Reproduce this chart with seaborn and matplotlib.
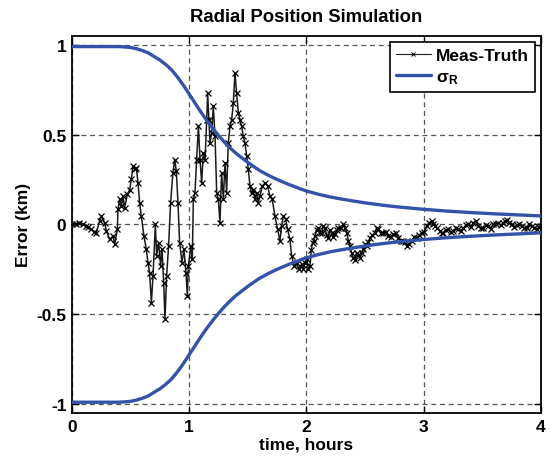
import numpy as np
import pandas as pd
import matplotlib
matplotlib.use("Agg")
import matplotlib.pyplot as plt
import seaborn as sns

# Measured-minus-truth radial error (km) vs time (hours)
meas_t = [
    0.0, 0.03, 0.06, 0.09, 0.12, 0.14, 0.165, 0.19, 0.207, 0.236,
    0.25, 0.279, 0.293, 0.321, 0.35, 0.364, 0.387, 0.392, 0.407, 0.421,
    0.435, 0.449, 0.472, 0.492, 0.506, 0.52, 0.535, 0.549, 0.563, 0.577,
    0.591, 0.614, 0.634, 0.648, 0.662, 0.677, 0.691, 0.711, 0.722, 0.739,
    0.756, 0.768, 0.782, 0.793, 0.807, 0.824, 0.841, 0.861, 0.876, 0.89,
    0.904, 0.918, 0.938, 0.955, 0.972, 0.984, 0.992, 1.015, 1.026, 1.035,
    1.049, 1.063, 1.078, 1.092, 1.106, 1.12, 1.135, 1.149, 1.157, 1.168,
    1.177, 1.191, 1.205, 1.22, 1.234, 1.248, 1.262, 1.276, 1.291, 1.305,
    1.319, 1.333, 1.348, 1.362, 1.376, 1.39, 1.404, 1.419, 1.433, 1.447,
    1.461, 1.475, 1.49, 1.504, 1.518, 1.532, 1.547, 1.561, 1.575, 1.589,
    1.603, 1.623, 1.646, 1.669, 1.688, 1.708, 1.731, 1.754, 1.774, 1.788,
    1.802, 1.822, 1.839, 1.859, 1.873, 1.896, 1.916, 1.936, 1.958, 1.973,
    1.987, 2.002, 2.03, 2.053, 2.073, 2.101, 2.13, 2.158, 2.186, 2.215,
    2.243, 2.272, 2.314, 2.343, 2.371, 2.4, 2.428, 2.456, 2.485, 2.513,
    2.542, 2.584, 2.613, 2.655, 2.698, 2.741, 2.783, 2.826, 2.854, 2.897,
    2.94, 2.982, 3.025, 3.068, 3.096, 3.139, 3.167, 3.21, 3.253, 3.295,
    3.338, 3.38, 3.423, 3.466, 3.508, 3.551, 3.594, 3.636, 3.679, 3.708,
    3.75, 3.793, 3.835, 3.878, 3.921, 3.963, 3.997,
]
meas_err = [
    0.0, 0.005, 0.008, 0.0, -0.01, -0.015, -0.028, -0.04, -0.046, 0.019,
    0.046, 0.009, -0.037, -0.083, -0.065, -0.111, -0.028, 0.083, 0.139, 0.102,
    0.157, 0.093, 0.167, 0.194, 0.25, 0.324, 0.306, 0.315, 0.231, 0.12,
    0.046, -0.065, -0.139, -0.213, -0.269, -0.435, -0.287, 0.0, -0.176, -0.102,
    -0.231, -0.139, -0.324, -0.528, -0.287, -0.12, 0.12, 0.287, 0.361, 0.296,
    0.12, -0.102, -0.213, -0.139, -0.269, -0.398, -0.231, -0.12, -0.194, 0.139,
    0.176, 0.361, 0.546, 0.361, 0.231, 0.398, 0.361, 0.583, 0.731, 0.583,
    0.454, 0.509, 0.657, 0.491, 0.176, 0.139, 0.009, 0.287, 0.139, 0.343,
    0.176, 0.454, 0.546, 0.583, 0.676, 0.843, 0.731, 0.62, 0.583, 0.546,
    0.491, 0.454, 0.38, 0.306, 0.213, 0.176, 0.194, 0.139, 0.176, 0.12,
    0.157, 0.213, 0.231, 0.213, 0.157, 0.139, 0.046, -0.028, -0.093, -0.009,
    0.046, 0.028, -0.028, -0.083, -0.176, -0.231, -0.213, -0.25, -0.222, -0.25,
    -0.213, -0.194, -0.231, -0.102, -0.065, -0.019, -0.046, -0.019, -0.074, -0.046,
    -0.056, -0.019, 0.0, -0.046, -0.12, -0.185, -0.157, -0.185, -0.139, -0.12,
    -0.074, -0.046, -0.028, -0.046, -0.065, -0.056, -0.074, -0.093, -0.12, -0.093,
    -0.074, -0.046, -0.009, 0.019, -0.009, -0.037, -0.046, -0.028, -0.037, -0.024,
    -0.019, 0.0, 0.009, -0.009, -0.019, -0.009, 0.0, 0.009, 0.009, 0.024,
    0.0, -0.006, -0.009, -0.019, -0.009, -0.028, -0.009,
]

# Additional samples in the settled phase (edges of the noise band)
late_t = [
    2.016, 2.041, 2.063, 2.087, 2.115, 2.144, 2.172, 2.2, 2.229, 2.258,
    2.293, 2.328, 2.357, 2.385, 2.414, 2.442, 2.47, 2.5, 2.527, 2.563,
    2.598, 2.634, 2.676, 2.72, 2.762, 2.805, 2.84, 2.875, 2.918, 2.961,
    3.003, 3.046, 3.082, 3.117, 3.153, 3.188, 3.231, 3.274, 3.316, 3.359,
    3.401, 3.444, 3.487, 3.53, 3.572, 3.615, 3.657, 3.693, 3.729, 3.771,
    3.814, 3.856, 3.9, 3.942, 3.98,
]
late_err = [
    -0.25, -0.14, -0.09, -0.03, -0.05, -0.01, -0.06, -0.03, -0.07, -0.03,
    -0.02, -0.02, -0.09, -0.16, -0.2, -0.17, -0.16, -0.11, -0.1, -0.06,
    -0.02, -0.05, -0.04, -0.07, -0.05, -0.09, -0.1, -0.11, -0.07, -0.06,
    -0.04, 0.01, 0.0, -0.02, -0.05, -0.03, -0.045, -0.02, -0.035, -0.005,
    -0.015, 0.02, -0.02, -0.005, -0.025, 0.005, -0.005, 0.02, 0.01, -0.015,
    0.0, -0.02, 0.0, -0.02, -0.015,
]

# One-sigma radial position bound (km)
sigma_t = [
    0.0, 0.1, 0.2, 0.3, 0.4, 0.45, 0.5, 0.55, 0.6, 0.65,
    0.7, 0.75, 0.8, 0.85, 0.9, 0.95, 1.0, 1.05, 1.1, 1.15,
    1.2, 1.25, 1.3, 1.35, 1.4, 1.45, 1.5, 1.55, 1.6, 1.65,
    1.7, 1.75, 1.8, 1.85, 1.9, 1.95, 2.0, 2.1, 2.2, 2.3,
    2.4, 2.5, 2.6, 2.7, 2.8, 3.0, 3.2, 3.4, 3.6, 3.8,
    4.0,
]
sigma_r = [
    0.99, 0.99, 0.99, 0.99, 0.99, 0.988, 0.985, 0.978, 0.968, 0.955,
    0.935, 0.915, 0.89, 0.86, 0.82, 0.775, 0.725, 0.675, 0.625, 0.578,
    0.535, 0.495, 0.458, 0.425, 0.395, 0.37, 0.345, 0.322, 0.30, 0.282,
    0.265, 0.25, 0.236, 0.222, 0.21, 0.197, 0.186, 0.168, 0.153, 0.141,
    0.13, 0.12, 0.111, 0.103, 0.096, 0.084, 0.074, 0.066, 0.059, 0.053,
    0.047,
]

x_ticks = [0, 1, 2, 3, 4]
y_ticks = [-1, -0.5, 0, 0.5, 1]
y_tick_labels = ["-1", "-0.5", "0", "0.5", "1"]

sns.set_theme(style="white")
plt.rcParams["font.family"] = ["Liberation Sans", "DejaVu Sans"]
plt.rcParams["font.weight"] = "bold"
plt.rcParams["text.color"] = "black"
plt.rcParams["axes.labelcolor"] = "black"
plt.rcParams["mathtext.fontset"] = "custom"
plt.rcParams["mathtext.rm"] = "Liberation Sans:bold"
plt.rcParams["mathtext.bf"] = "Liberation Sans:bold"
plt.rcParams["mathtext.it"] = "Liberation Sans:bold"

meas_df = pd.concat([
    pd.DataFrame({"t": meas_t, "err": meas_err}),
    pd.DataFrame({"t": late_t, "err": late_err}),
]).sort_values("t").reset_index(drop=True)
sig_df = pd.DataFrame({"t": sigma_t, "upper": sigma_r,
                       "lower": [-s for s in sigma_r]})

fig = plt.figure(figsize=(5.5, 4.6), dpi=100)
ax = fig.add_axes([0.1309, 0.1, 0.8527, 0.82])

blue = "#3352A8"
sns.lineplot(data=meas_df, x="t", y="err", ax=ax, color="#1a1a1a",
             linewidth=1.1, marker="x", markersize=4.5, markeredgewidth=0.9,
             markeredgecolor="black", sort=False, label="Meas-Truth",
             zorder=3)
sns.lineplot(data=sig_df, x="t", y="upper", ax=ax, color=blue, linewidth=2.4,
             label="σ$_{\\mathbf{R}}$", zorder=4)
sns.lineplot(data=sig_df, x="t", y="lower", ax=ax, color=blue, linewidth=2.4,
             legend=False, zorder=4)

ax.set_xlim(0, 4)
ax.set_ylim(-1.05, 1.05)
ax.set_xticks(x_ticks)
ax.set_xticklabels([str(v) for v in x_ticks], fontsize=12.5, fontweight="bold")
ax.set_yticks(y_ticks)
ax.set_yticklabels(y_tick_labels, fontsize=12.5, fontweight="bold")
ax.tick_params(direction="in", length=5, width=1, top=True, right=True,
               bottom=True, left=True, pad=4, colors="black")

ax.grid(True, color="#555555", linestyle=(0, (4, 3)), linewidth=0.9)
for sp in ax.spines.values():
    sp.set_color("black")
    sp.set_linewidth(1.3)
    sp.set_visible(True)

ax.set_title("Radial Position Simulation", fontsize=13.3, fontweight="bold",
             pad=11, color="black")
ax.set_xlabel("time, hours", fontsize=12.5, fontweight="bold", labelpad=2)
ax.set_ylabel("Error (km)", fontsize=12.5, fontweight="bold", labelpad=4)

leg = ax.legend(loc="upper right", fontsize=12.5, frameon=True, fancybox=False,
                edgecolor="black", framealpha=1, numpoints=1, handlelength=2.0,
                borderaxespad=0.35, borderpad=0.35, labelspacing=0.35,
                handletextpad=0.3)
leg.get_frame().set_linewidth(1.2)
for txt in leg.get_texts():
    txt.set_fontweight("bold")
    txt.set_color("black")
# thinner line and small cross for the trace's legend key
meas_handle = leg.legend_handles[0]
meas_handle.set_markersize(3)
meas_handle.set_markeredgewidth(0.7)
meas_handle.set_linewidth(0.8)

fig.savefig("out.png", dpi=100)
